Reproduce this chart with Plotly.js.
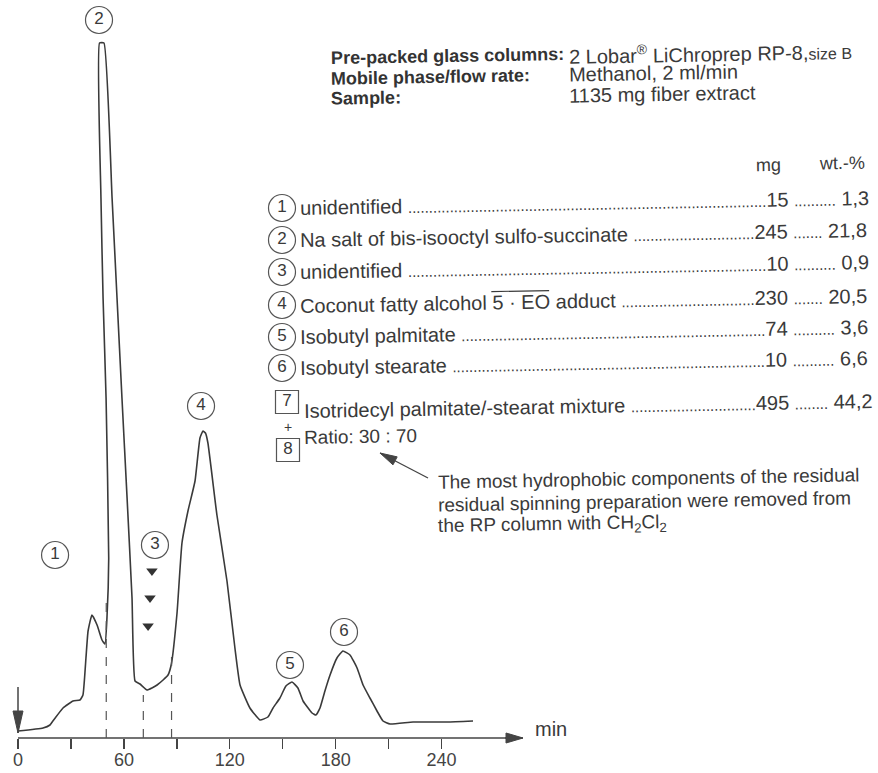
<!DOCTYPE html>
<html>
<head>
<meta charset="utf-8">
<script src="https://cdn.plot.ly/plotly-3.0.1.min.js"></script>
<style>
html,body{margin:0;padding:0;background:#ffffff;}
#chart{width:878px;height:773px;}
</style>
</head>
<body>
<div id="chart"></div>
<script>
// ---------------- data ----------------
const timeMin = [0, 14.2, 18.1, 19.8, 25.5, 31.2, 35.1, 36.8, 38.5, 39.7, 41.9, 44.8, 47.6, 49.3,
  50.4, 51.4, 49.9, 48.2, 47.0, 46.2, 48.7, 53.3, 56.1, 58.9, 61.8, 64.6, 66.3, 69.1, 73.1, 75.9,
  78.8, 82.2, 85.0, 86.9, 90.1, 92.9, 96.3, 100.3, 103.1, 104.8, 106.2, 107.6, 112.7, 118.4, 122.9,
  125.8, 131.4, 137.1, 141.6, 144.5, 148.4, 151.8, 155.2, 158.6, 161.5, 166.6, 168.8, 171.1, 173.9,
  176.8, 180.7, 184.1, 188.1, 192.1, 195.5, 199.4, 203.4, 206.8, 210.8, 223.8, 243.1, 257.8];
const signal = [7, 10, 13, 17, 30, 37, 38, 43, 80, 107, 123, 113, 98, 94,
  120, 180, 340, 440, 540, 695, 695, 540, 440, 340, 240, 140, 57, 54, 48, 50,
  53, 58, 63, 74, 125, 195, 227, 257, 300, 307, 305, 295, 223, 157, 90,
  53, 30, 18, 21, 30, 40, 52, 56, 50, 37, 25, 23, 30, 47,
  63, 80, 87, 83, 70, 53, 40, 27, 17, 14, 16, 16, 17];

const xTickVals = [0, 30, 60, 90, 120, 150, 180, 210, 240];
const xTickText = ['0', ' ', '60', ' ', '120', ' ', '180', ' ', '240'];

const cutTimes = [50, 71, 87];
const cutTops = [137, 43, 87];

const markTimes = [75.9, 74.8, 73.7];
const markHeights = [167, 140, 112];

const peakIds = ['1', '2', '3', '4', '5', '6'];
const peakLabelTime = [21.0, 45.9, 77.6, 103.7, 154.1, 184.7];
const peakLabelHeight = [183, 718, 193, 332, 73, 106];

const compIds = ['1', '2', '3', '4', '5', '6'];
const compNames = ['unidentified', 'Na salt of bis-isooctyl sulfo-succinate', 'unidentified',
  'Coconut fatty alcohol 5 · EO adduct', 'Isobutyl palmitate', 'Isobutyl stearate',
  'Isotridecyl palmitate/-stearat mixture'];
const compMg = ['15', '245', '10', '230', '74', '10', '495'];
const compWt = ['1,3', '21,8', '0,9', '20,5', '3,6', '6,6', '44,2'];

// ---------------- layout helpers ----------------
const W = 878, H = 773, L = 18, B = 35, PLOT_H = H - B, PXMIN = 1.765;
const XMAX = (W - L) / PXMIN;
const tx = px => (px - L) / PXMIN;      // pixel x -> minutes
const hy = py => PLOT_H - py;           // pixel y -> signal units
const xp = px => (px - L) / (W - L);    // pixel x -> paper
const yp = py => (PLOT_H - py) / PLOT_H;// pixel y -> paper

const FONT = 'Liberation Sans, Arial, Helvetica, sans-serif';
const TXT = '#3a3a3a';
const INK = '#444444';
const TILT = -1;

const ctx = document.createElement('canvas').getContext('2d');
function tw(s, size, bold) {
  ctx.font = (bold ? 'bold ' : '') + size + 'px "Liberation Sans"';
  return ctx.measureText(s).width;
}

const annotations = [];
const shapes = [];

function txt(text, px, py, size, opts) {
  opts = opts || {};
  annotations.push({
    xref: 'paper', yref: 'paper', x: xp(px), y: yp(py), text: text, showarrow: false,
    xanchor: opts.xanchor || 'left', yanchor: 'middle', textangle: opts.angle === undefined ? TILT : opts.angle,
    font: {family: FONT, size: size, color: opts.color || TXT}, borderpad: 0
  });
}

// header block
txt('<b>Pre-packed glass columns:</b>', 330, 56, 18, {color: '#333'});
txt('<b>Mobile phase/flow rate:</b>', 330, 77, 18, {color: '#333'});
txt('<b>Sample:</b>', 330, 98, 18, {color: '#333'});
txt('2 Lobar<sup>®</sup> LiChroprep RP-8,<span style="font-size:16px">size B</span>', 568, 52, 20);
txt('Methanol, 2 ml/min', 568, 73, 20);
txt('1135 mg fiber extract', 568, 94, 20);

// component table
txt('mg', 768, 165, 18, {xanchor: 'center'});
txt('wt.-%', 842, 163, 18, {xanchor: 'center'});

const ROW_FS = 20, DOT_FS = 15;
const dotW = tw('.', DOT_FS);
const rowY = [202.5, 235, 267, 301, 332, 363, 406];
const rowX0 = [299, 299, 299, 299, 299, 299, 303];
const mgRight = [786, 786, 786, 786, 786, 786, 790];
const wtRight = [866, 866, 866, 866, 866, 866, 873];
function dots(w) { return '.'.repeat(Math.max(2, Math.round(w / dotW))); }
compNames.forEach((nm, i) => {
  const w1 = tw(nm + ' ', ROW_FS);
  const wMg = tw(compMg[i], ROW_FS);
  const n1 = dots(mgRight[i] - rowX0[i] - w1 - wMg);
  const sp = tw(' ', ROW_FS);
  const wWt = tw(' ' + compWt[i], ROW_FS);
  const n2 = dots(wtRight[i] - mgRight[i] - sp - wWt);
  const s = nm + ' <span style="font-size:' + DOT_FS + 'px">' + n1 + '</span>' + compMg[i] +
    ' <span style="font-size:' + DOT_FS + 'px">' + n2 + '</span> ' + compWt[i];
  txt(s, rowX0[i], rowY[i], ROW_FS);
});
// overline on "5 · EO"
(function () {
  const x0 = rowX0[3] + tw('Coconut fatty alcohol ', ROW_FS);
  const x1 = x0 + tw('5 · EO', ROW_FS);
  const cx = (rowX0[3] + wtRight[3]) / 2;
  const k = Math.tan(Math.PI / 180);
  const y0 = rowY[3] - 11 + (cx - x0) * k, y1 = rowY[3] - 11 + (cx - x1) * k;
  shapes.push({type: 'line', xref: 'paper', yref: 'paper', x0: xp(x0), x1: xp(x1), y0: yp(y0), y1: yp(y1),
    line: {color: TXT, width: 1.2}});
})();
txt('Ratio: 30 : 70', 303, 436, 19);
txt('+', 288, 427, 14, {xanchor: 'center', angle: 0});

// note
txt('The most hydrophobic components of the residual', 437, 478, 19);
txt('residual spinning preparation were removed from', 437, 501.5, 19);
txt('the RP column with CH<sub>2</sub>Cl<sub>2</sub>', 437, 525, 19);
txt('min', 551, 729, 20, {xanchor: 'center', angle: 0});

// arrows drawn as paper shapes
function arrow(tail, tip, headLen, halfW, width) {
  shapes.push({type: 'line', xref: 'paper', yref: 'paper', x0: xp(tail[0]), y0: yp(tail[1]),
    x1: xp(tip[0]), y1: yp(tip[1]), line: {color: INK, width: width}});
  const dx = tip[0] - tail[0], dy = tip[1] - tail[1], len = Math.hypot(dx, dy);
  const ux = dx / len, uy = dy / len, bx = tip[0] - ux * headLen, by = tip[1] - uy * headLen;
  const nx = -uy, ny = ux;
  const p = [[tip[0], tip[1]], [bx + nx * halfW, by + ny * halfW], [bx - nx * halfW, by - ny * halfW]];
  shapes.push({type: 'path', xref: 'paper', yref: 'paper',
    path: 'M' + p.map(q => xp(q[0]) + ',' + yp(q[1])).join(' L') + ' Z',
    fillcolor: INK, line: {color: INK, width: 1}});
}
// x axis line with arrow
shapes.push({type: 'line', xref: 'paper', yref: 'paper', x0: xp(L), x1: xp(508), y0: 0, y1: 0,
  line: {color: INK, width: 1.5}});
arrow([505, PLOT_H], [523, PLOT_H], 17, 5, 1.5);
// injection arrow
arrow([18, 687], [18, 733], 22, 5, 1.5);
// note arrow
arrow([428, 478], [380, 453], 17, 4.5, 1.3);

// cut lines (dashed)
cutTimes.forEach((t, i) => {
  shapes.push({type: 'line', xref: 'x', yref: 'y', x0: t, x1: t, y0: 0, y1: cutTops[i],
    line: {color: '#555', width: 1.2, dash: 'dash'}});
});

// legend glyph positions (pixels)
const glyphY = [208, 240, 272, 305, 337, 368];

const traces = [
  {type: 'scatter', mode: 'lines', x: timeMin, y: signal, hoverinfo: 'skip',
   line: {color: '#3a3a3a', width: 1.6, shape: 'spline', smoothing: 0.4}},
  {type: 'scatter', mode: 'markers', x: markTimes, y: markHeights, hoverinfo: 'skip',
   marker: {symbol: 'triangle-down', size: 10, color: '#333'}},
  {type: 'scatter', mode: 'markers+text', x: peakLabelTime, y: peakLabelHeight, text: peakIds,
   textposition: 'middle center', cliponaxis: false, hoverinfo: 'skip',
   textfont: {family: FONT, size: 17, color: TXT},
   marker: {symbol: 'circle-open', size: 27, color: '#555', line: {width: 1.2, color: '#555'}}},
  {type: 'scatter', mode: 'markers+text', x: glyphY.map(() => tx(282)), y: glyphY.map(hy), text: compIds,
   textposition: 'middle center', cliponaxis: false, hoverinfo: 'skip',
   textfont: {family: FONT, size: 17, color: TXT},
   marker: {symbol: 'circle-open', size: 27, color: '#555', line: {width: 1.2, color: '#555'}}},
  {type: 'scatter', mode: 'markers+text', x: [tx(287), tx(288)], y: [hy(402), hy(450)], text: ['7', '8'],
   textposition: 'middle center', cliponaxis: false, hoverinfo: 'skip',
   textfont: {family: FONT, size: 17, color: TXT},
   marker: {symbol: 'square-open', size: 23, color: '#555', line: {width: 1.2, color: '#555'}}}
];

const layout = {
  width: W, height: H,
  margin: {l: L, r: 0, t: 0, b: B, pad: 0},
  paper_bgcolor: '#ffffff', plot_bgcolor: '#ffffff',
  showlegend: false,
  font: {family: FONT, color: TXT},
  xaxis: {range: [0, XMAX], showgrid: false, zeroline: false, showline: false,
    tickmode: 'array', tickvals: xTickVals, ticktext: xTickText, ticks: 'outside', ticklen: 10,
    ticklabelstandoff: -5,
    tickwidth: 1.3, tickcolor: INK, tickfont: {family: FONT, size: 18, color: INK}, automargin: false, fixedrange: true},
  yaxis: {range: [0, PLOT_H], visible: false, fixedrange: true, automargin: false},
  shapes: shapes,
  annotations: annotations
};

Plotly.newPlot('chart', traces, layout, {displayModeBar: false, staticPlot: true});
</script>
</body>
</html>
